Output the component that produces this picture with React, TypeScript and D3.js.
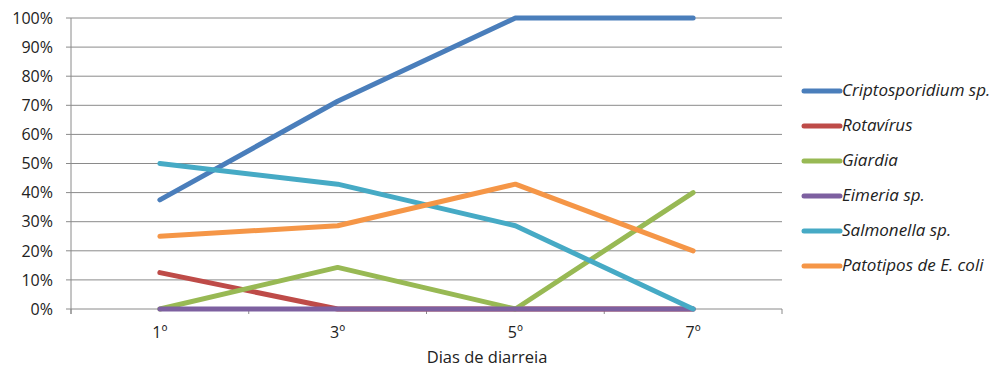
import React from "react";
import * as d3 from "d3";

const days = ["1º", "3º", "5º", "7º"];
const yTicks = [0, 10, 20, 30, 40, 50, 60, 70, 80, 90, 100];

const seriesNames = [
  "Criptosporidium sp.",
  "Rotavírus",
  "Giardia",
  "Eimeria sp.",
  "Salmonella sp.",
  "Patotipos de E. coli",
];
const seriesColors = ["#4A7EBB", "#BE4B48", "#98B954", "#7D60A0", "#46AAC5", "#F59647"];

const cripto = [37.5, 71.4, 100, 100];
const rotavirus = [12.5, 0, 0, 0];
const giardia = [0, 14.3, 0, 40];
const eimeria = [0, 0, 0, 0];
const salmonella = [50, 42.9, 28.6, 0];
const ecoli = [25, 28.6, 42.9, 20];

const seriesValues = [cripto, rotavirus, giardia, eimeria, salmonella, ecoli];

const W = 999;
const H = 368;
const left = 71;
const right = 782;
const top = 18;
const bottom = 309;
const font = "'Open Sans', Lato, sans-serif";

export default function App() {
  const x = d3.scaleBand<string>().domain(days).range([left, right]).padding(0);
  const y = d3.scaleLinear().domain([0, 100]).range([bottom, top]);
  const line = d3
    .line<number>()
    .x((_, i) => (x(days[i]) as number) + x.bandwidth() / 2)
    .y((d) => y(d));

  const boundaries = days.map((d) => x(d) as number).concat([right]);

  return (
    <svg
      width={W}
      height={H}
      style={{ position: "absolute", left: 0, top: 0, background: "#fff" }}
      fontFamily={font}
    >
      {/* horizontal gridlines and y ticks */}
      {yTicks.map((t) => (
        <g key={t}>
          <line x1={left - 5} x2={right} y1={y(t)} y2={y(t)} stroke="#8a8a8a" strokeWidth={1} />
          <text x={53} y={y(t)} dy="0.36em" textAnchor="end" fontSize={16} fill="#222">
            {t}%
          </text>
        </g>
      ))}
      {/* y axis line */}
      <line x1={left} x2={left} y1={top} y2={bottom + 5} stroke="#8a8a8a" strokeWidth={1} />
      {/* x tick marks at category boundaries */}
      {boundaries.map((b, i) => (
        <line key={i} x1={b} x2={b} y1={bottom} y2={bottom + 5} stroke="#8a8a8a" strokeWidth={1} />
      ))}
      {days.map((d) => (
        <text
          key={d}
          x={(x(d) as number) + x.bandwidth() / 2}
          y={338}
          textAnchor="middle"
          fontSize={16}
          fill="#222"
        >
          {d}
        </text>
      ))}
      <text x={487} y={363} textAnchor="middle" fontSize={16.5} fill="#222">
        Dias de diarreia
      </text>

      {/* series lines */}
      {seriesValues.map((vals, i) => (
        <path
          key={seriesNames[i]}
          d={line(vals) || ""}
          fill="none"
          stroke={seriesColors[i]}
          strokeWidth={5}
          strokeLinecap="round"
          strokeLinejoin="round"
        />
      ))}

      {/* legend */}
      {seriesNames.map((name, i) => {
        const ly = 91 + i * 35;
        return (
          <g key={name}>
            <line x1={804} x2={840} y1={ly} y2={ly} stroke={seriesColors[i]} strokeWidth={5} strokeLinecap="round" />
            <text x={842} y={ly + 5} fontSize={17} fontStyle="italic" fill="#222">
              {name}
            </text>
          </g>
        );
      })}
    </svg>
  );
}
